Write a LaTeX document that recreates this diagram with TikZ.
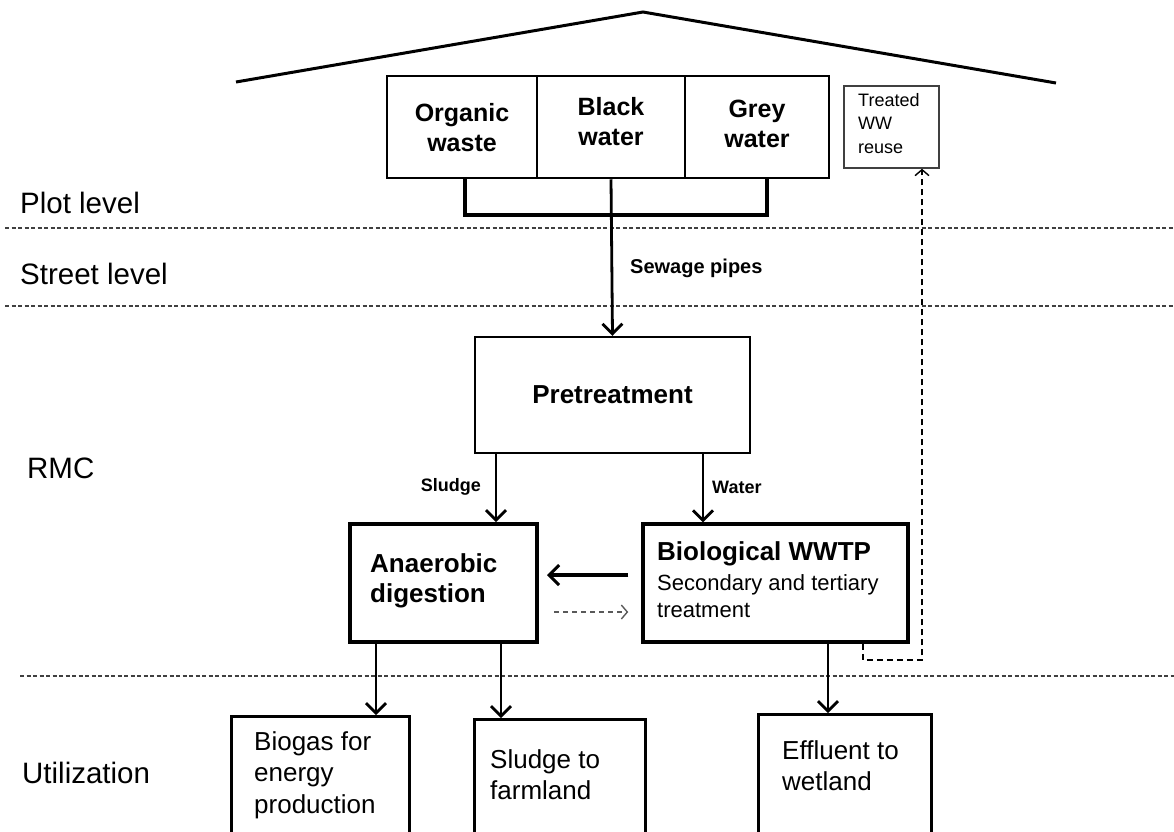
\documentclass[tikz,border=0pt]{standalone}
\usepackage{fontspec}
\setmainfont{Liberation Sans}
\usetikzlibrary{arrows.meta}
\begin{document}
\begin{tikzpicture}[x=1pt,y=-1pt,
  lvl/.style={font=\fontsize{29.5}{32}\selectfont, anchor=base west, inner sep=0pt},
  sep/.style={line width=1.2pt, dash pattern=on 4pt off 2.5pt, black!75},
  cell/.style={draw, line width=2.5pt, minimum height=102pt, inner sep=0pt},
  celltxt/.style={align=center, inner sep=0pt, font=\bfseries\fontsize{25}{30}\selectfont},
  box/.style={draw, line width=2.5pt, inner sep=0pt},
  txt/.style={anchor=north west, align=left, inner sep=0pt, font=\fontsize{26}{31.5}\selectfont},
  btxt/.style={txt, font=\bfseries\fontsize{26}{30}\selectfont},
  lab/.style={inner sep=0pt, font=\bfseries\fontsize{18}{20}\selectfont},
  arr/.style={line width=2.8pt, -{Straight Barb[length=10pt,width=20pt,line width=2.8pt]}},
  darr/.style={line width=1.6pt, dash pattern=on 6pt off 4pt, -{Straight Barb[length=6pt,width=14pt,line width=1.4pt]}},
]
\useasboundingbox (0,0) rectangle (1174,831);
\clip (0,0) rectangle (1174,831);
\fill[white] (0,0) rectangle (1174,831);

% roof
\draw[line width=3pt] (236,82) -- (643,12) -- (1056,83);

% level separators
\draw[sep] (5,228) -- (1174,228);
\draw[sep] (5,306) -- (1174,306);
\draw[sep] (20,676) -- (1174,676);

% level labels
\node[lvl] (lplot) at (20,213) {Plot level};
\node[lvl] (lstreet) at (20,284) {Street level};
\node[lvl] (lrmc) at (27,478) {RMC};
\node[lvl] (lutil) at (22,783) {Utilization};

% top cells
\node[cell, minimum width=150pt] (ow) at (462,127) {};
\node[cell, minimum width=148pt] (bw) at (611,127) {};
\node[cell, minimum width=144pt] (gw) at (757,127) {};
\node[celltxt] (owt) at (462,128) {Organic\\waste};
\node[celltxt] (bwt) at (611,122) {Black\\water};
\node[celltxt] (gwt) at (757,124) {Grey\\water};

% treated reuse
\node[draw, line width=1.5pt, black!75, minimum width=95pt, minimum height=82pt] (tr) at (891.5,127) {};
\node[anchor=north west, align=left, inner sep=0pt, font=\fontsize{18}{23.5}\selectfont] (trt) at (858,93) {Treated\\WW\\reuse};

% bracket
\coordinate (bl) at (465,215);
\coordinate (br) at (767,215);
\draw[line width=4pt, line join=miter] (ow.south -| bl) -- (bl) -- (br) -- (gw.south -| br);

% pretreatment
\node[box, minimum width=275pt, minimum height=116pt, font=\bfseries\fontsize{26}{30}\selectfont] (pre) at (612.5,395) {Pretreatment};
\draw[arr] (bw.south) -- (pre.north);
\node[lab, anchor=west, font=\bfseries\fontsize{20}{22}\selectfont] (sew) at (630,268) {Sewage pipes};

% anaerobic digestion
\node[box, line width=4pt, minimum width=187pt, minimum height=118pt] (ad) at (443.5,583) {};
\node[btxt] (adt) at (370,553) {Anaerobic\\digestion};

% biological WWTP
\node[box, line width=3.5pt, minimum width=265pt, minimum height=118pt] (bio) at (775.5,583) {};
\node[btxt] (biot) at (657,541) {Biological WWTP};
\node[txt, font=\fontsize{22}{27}\selectfont] (biob) at (657,574) {Secondary and tertiary\\treatment};

% sludge / water arrows
\coordinate (s1) at (496,0);
\coordinate (w1) at (703,0);
\draw[arr] (pre.south -| s1) -- (ad.north -| s1);
\draw[arr] (pre.south -| w1) -- (bio.north -| w1);
\node[lab, anchor=east] (sl) at (481,487) {Sludge};
\node[lab, anchor=west] (wl) at (712,487) {Water};

% horizontal arrows
\coordinate (h1) at (0,575);
\coordinate (h2) at (0,612);
\draw[line width=3.2pt, -{Straight Barb[length=10pt,width=20pt,line width=3pt]}, shorten <=13pt, shorten >=8pt] (bio.west |- h1) -- (ad.east |- h1);
\draw[line width=1.5pt, black!65, dash pattern=on 5pt off 4pt, -{Straight Barb[length=6pt,width=14pt,line width=1.4pt]}, shorten <=15pt, shorten >=13pt] (ad.east |- h2) -- (bio.west |- h2);

% utilization boxes
\node[box, line width=3pt, minimum width=178pt, minimum height=200pt, anchor=north] (bg) at (320,715) {};
\node[box, line width=3pt, minimum width=171pt, minimum height=200pt, anchor=north] (sf) at (559.5,718) {};
\node[box, line width=3pt, minimum width=173pt, minimum height=200pt, anchor=north] (ef) at (844.5,713) {};
\node[txt] (bgt) at (254,731) {Biogas for\\energy\\production};
\node[txt] (sft) at (490,749) {Sludge to\\farmland};
\node[txt] (eft) at (782,740) {Effluent to\\wetland};

\coordinate (a1) at (376,0);
\coordinate (a2) at (501,0);
\coordinate (e1) at (828,0);
\draw[arr] (ad.south -| a1) -- (bg.north -| a1);
\draw[arr] (ad.south -| a2) -- (sf.north -| a2);
\draw[arr] (bio.south -| e1) -- (ef.north -| e1);

% treated water reuse (dashed)
\coordinate (r1) at (863,0);
\coordinate (r2) at (922,660);
\draw[darr] (bio.south -| r1) |- (r2) -- (tr.south -| r2);
\end{tikzpicture}
\end{document}
